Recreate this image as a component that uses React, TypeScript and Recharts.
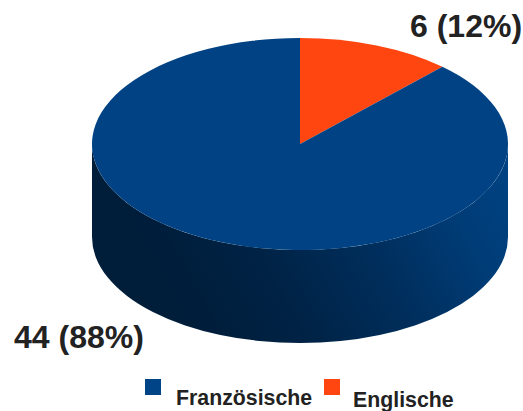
import { PieChart, Pie, Legend } from 'recharts';

const categories = ['Englische', 'Französische'];
const counts = [6, 44];
const shares = ['12%', '88%'];
const colors = ['#ff4510', '#004283'];
const legendOrder = [1, 0];

const pieData = categories.map((name, i) => ({ name, value: counts[i], fill: colors[i] }));

const FONT = '"Liberation Sans", Arial, sans-serif';
const CX = 300;
const CY = 144;
const RX = 208;
const SQUASH = 106 / 208;
const DEPTH = 93;

const ellipsePoint = (radius: number, angle: number) => {
  const a = (angle * Math.PI) / 180;
  return { x: CX + radius * Math.cos(a), y: CY - radius * SQUASH * Math.sin(a) };
};

// recharts only gives circular sectors, so squash them into the tilted top face
const TopSlice = (props: any) => {
  const { outerRadius: r, startAngle, endAngle, fill } = props;
  const from = ellipsePoint(r, startAngle);
  const to = ellipsePoint(r, endAngle);
  const large = Math.abs(endAngle - startAngle) > 180 ? 1 : 0;
  const sweep = startAngle > endAngle ? 1 : 0;
  const d = `M${CX},${CY} L${from.x},${from.y} A${r},${r * SQUASH} 0 ${large} ${sweep} ${to.x},${to.y} Z`;
  return <path d={d} fill={fill} />;
};

// wall under a slice, only the part facing the viewer (-180..0 degrees)
const WallSlice = (props: any) => {
  const { outerRadius: r, startAngle, endAngle } = props;
  const hi = Math.min(0, Math.max(startAngle, endAngle));
  const lo = Math.max(-180, Math.min(startAngle, endAngle));
  if (hi <= lo) return null;
  const a = ellipsePoint(r, lo);
  const b = ellipsePoint(r, hi);
  const ry = r * SQUASH;
  const d = `M${a.x},${a.y} A${r},${ry} 0 0 0 ${b.x},${b.y} L${b.x},${b.y + DEPTH} A${r},${ry} 0 0 1 ${a.x},${a.y + DEPTH} Z`;
  return <path d={d} fill="url(#wallShade)" />;
};

const labelSpots: Record<string, { x: number; y: number }> = {
  Englische: { x: 410, y: 37 },
  'Französische': { x: 14, y: 348 },
};

const renderLabel = (props: any) => {
  const i = categories.indexOf(props.name);
  const spot = labelSpots[props.name];
  return (
    <text x={spot.x} y={spot.y} fontFamily={FONT} fontWeight="bold" fontSize={32} fill="#222222">
      {`${counts[i]} (${shares[i]})`}
    </text>
  );
};

const legendSpots = [
  { box: 145, boxTop: 379, text: 176, base: 405 },
  { box: 324, boxTop: 379, text: 353, base: 407 },
];

const renderLegend = () => (
  <svg width={523} height={411} style={{ position: 'absolute', left: 0, top: 0 }}>
    {legendOrder.map((idx, i) => (
      <g key={categories[idx]}>
        <rect x={legendSpots[i].box} y={legendSpots[i].boxTop} width={16} height={16} fill={idx === 1 ? '#004488' : colors[idx]} />
        <text x={legendSpots[i].text} y={legendSpots[i].base} fontFamily={FONT} fontWeight="bold" fontSize={21.3} fill="#222222">
          {categories[idx]}
        </text>
      </g>
    ))}
  </svg>
);

export default function App() {
  return (
    <div style={{ position: 'absolute', left: 0, top: 0, width: 523, height: 411, background: '#ffffff' }}>
      <PieChart width={523} height={411} margin={{ top: 0, right: 0, bottom: 0, left: 0 }}>
        <defs>
          <linearGradient id="wallShade" gradientUnits="userSpaceOnUse" x1={200} y1={340} x2={510} y2={170}>
            <stop offset="0%" stopColor="#001d3a" />
            <stop offset="25%" stopColor="#002244" />
            <stop offset="55%" stopColor="#002e5c" />
            <stop offset="80%" stopColor="#003c76" />
            <stop offset="100%" stopColor="#004283" />
          </linearGradient>
        </defs>
        <Pie
          data={pieData}
          dataKey="value"
          nameKey="name"
          cx={CX}
          cy={CY}
          innerRadius={0}
          outerRadius={RX}
          startAngle={90}
          endAngle={-270}
          stroke="none"
          legendType="none"
          shape={WallSlice}
          isAnimationActive={false}
        />
        <Pie
          data={pieData}
          dataKey="value"
          nameKey="name"
          cx={CX}
          cy={CY}
          innerRadius={0}
          outerRadius={RX}
          startAngle={90}
          endAngle={-270}
          stroke="none"
          labelLine={false}
          label={renderLabel}
          shape={TopSlice}
          isAnimationActive={false}
        />
        <Legend content={renderLegend} wrapperStyle={{ position: 'absolute', left: 0, top: 0, width: 523, height: 411, pointerEvents: 'none' }} />
      </PieChart>
    </div>
  );
}
